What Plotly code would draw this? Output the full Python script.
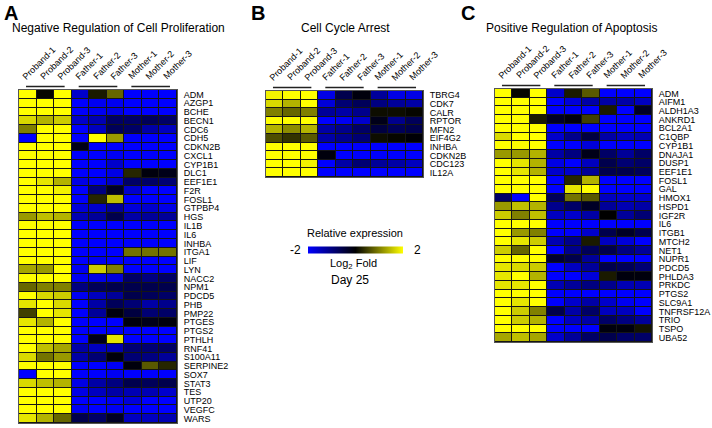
import plotly.graph_objects as go

samples = ["Proband-1", "Proband-2", "Proband-3", "Father-1", "Father-2", "Father-3",
           "Mother-1", "Mother-2", "Mother-3"]
group_spans = [(0, 2), (3, 5), (6, 8)]

genes_a = ["ADM", "AZGP1", "BCHE", "BECN1", "CDC6", "CDH5", "CDKN2B", "CXCL1", "CYP1B1",
           "DLC1", "EEF1E1", "F2R", "FOSL1", "GTPBP4", "HGS", "IL1B", "IL6", "INHBA", "ITGA1",
           "LIF", "LYN", "NACC2", "NPM1", "PDCD5", "PHB", "PMP22", "PTGES", "PTGS2", "PTHLH",
           "RNF41", "S100A11", "SERPINE2", "SOX7", "STAT3", "TES", "UTP20", "VEGFC", "WARS"]
values_a = [
    [2, 0.05, 2, -1.6, 0.2, 0.8, -2, -2, -2],
    [2, 2, 2, -2, -1.9, -1.9, -2, -2, -2],
    [2, 2, 2, -2, -1.9, -1.8, -2, -2, -2],
    [1.7, 1.4, 1.6, -1.6, -1.4, -0.8, -0.8, -0.7, -0.8],
    [1.0, 2, 2, -2, -1.5, -0.7, -0.8, -1.3, -1.5],
    [-2, 2, 2, -2, 2, 1.2, -2, -2, -2],
    [2, 2, 2, -0.2, -2, -2, -2, -2, -2],
    [2, 2, 2, -2, -2, -1.9, -2, -2, -2],
    [2, 2, 2, -2, -2, -1.6, -2, -2, -2],
    [2, 2, 2, -2, -2, -1.8, 0.3, -0.1, -0.2],
    [2, 1.8, 1.4, -1.8, -1.9, -1.6, -0.8, -0.8, -0.9],
    [2, 2, 1.9, -2, -1.0, -0.3, -1.6, -2, -2],
    [2, 2, 2, -2, 0.3, 1.5, -2, -2, -2],
    [2, 2, 2, -1.7, -1.6, -1.2, -1.7, -1.6, -1.8],
    [1.2, 1.5, 1.4, -1.4, -1.2, -0.6, -1.3, -1.2, -1.2],
    [2, 2, 2, -2, -2, -2, -2, -2, -2],
    [2, 2, 2, -2, -2, -2, -2, -2, -2],
    [2, 2, 2, -2, -2, -2, -2, -2, -2],
    [2, 2, 2, -2, -2, -2, 0.9, 0.9, 0.9],
    [2, 2, 2, -2, -1.9, -2, -2, -2, -2],
    [1.3, 1.2, 2, -1.9, 1.6, 1.0, -2, -2, -2],
    [2, 2, 2, -1.9, -1.8, -1.7, -0.8, -1.0, -0.8],
    [0.8, 1.0, 1.0, -1.0, -0.7, -0.6, -0.6, -0.6, -0.6],
    [2, 1.7, 1.6, -1.9, -1.5, -1.2, -0.6, -0.7, -0.8],
    [1.8, 2, 1.7, -2, -1.3, -0.7, -0.9, -1.3, -1.1],
    [0.5, 2, 1.8, -2, -1.2, -0.1, -0.5, -0.9, -0.8],
    [1.8, 1.4, 2, -2, -2, -2, -0.1, -0.2, -0.1],
    [2, 2, 2, -2, -2, -1.9, -2, -2, -2],
    [2, 2, 2, -2, -0.2, 1.8, -2, -2, -2],
    [2, 1.5, 1.3, -1.3, -1.5, -1.4, -0.9, -0.9, -0.8],
    [1.7, 0.9, 1.2, -1.3, -0.9, -0.1, -0.9, -1.0, -1.2],
    [2, 2, 2, -2, -2, -1.9, -0.1, 0.7, 0.3],
    [-2, 2, 2, -2, -2, -1.9, -2, -2, -2],
    [1.7, 1.5, 1.4, -1.8, -1.3, -1.0, -0.6, -0.7, -0.6],
    [2, 2, 2, -1.8, -1.5, -1.3, -1.4, -1.4, -1.6],
    [2, 2, 2, -2, -2, -1.9, -1.7, -2, -2],
    [2, 2, 2, -1.9, -2, -1.9, -2, -2, -2],
    [1.8, 1.4, 0.8, -0.6, -0.8, -0.3, -1.5, -1.5, -1.4],
]

genes_b = ["TBRG4", "CDK7", "CALR", "RPTOR", "MFN2", "EIF4G2", "INHBA", "CDKN2B", "CDC123", "IL12A"]
values_b = [
    [1.9, 2, 2, -1.8, -0.6, -0.1, -1.2, -1.8, -1.8],
    [1.7, 1.4, 2, -1.7, -0.9, -0.7, -1.0, -1.2, -1.3],
    [1.0, 0.8, 1.0, -1.2, -1.3, -1.1, 0.1, 0.1, 0.05],
    [2, 2, 2, -2, -1.9, -1.6, -0.2, -1.1, -0.7],
    [1.4, 1.1, 1.4, -1.3, -1.1, -0.8, -0.5, -0.7, -0.6],
    [0.6, 0.4, 0.7, -1.3, -1.1, -0.9, 0.1, 0.05, -0.05],
    [2, 2, 2, -2, -2, -2, -2, -2, -2],
    [2, 2, 2, -0.1, -2, -2, -2, -2, -2],
    [2, 2, 1.9, -2, -1.3, -0.9, -1.2, -1.3, -1.5],
    [2, 2, 2, -2, -2, -2, -2, -2, -2],
]

genes_c = ["ADM", "AIFM1", "ALDH1A3", "ANKRD1", "BCL2A1", "C1QBP", "CYP1B1", "DNAJA1", "DUSP1",
           "EEF1E1", "FOSL1", "GAL", "HMOX1", "HSPD1", "IGF2R", "IL6", "ITGB1", "MTCH2", "NET1",
           "NUPR1", "PDCD5", "PHLDA3", "PRKDC", "PTGS2", "SLC9A1", "TNFRSF12A", "TRIO", "TSPO", "UBA52"]
values_c = [
    [2, 0.05, 2, -1.6, 0.2, 0.7, -2, -2, -2],
    [2, 2, 2, -2, -1.7, -1.3, -1.3, -1.3, -1.5],
    [2, 2, 2, -2, -2, -2, 0.2, -2, -0.3],
    [2, 2, 0.2, -0.3, -0.1, 0.5, -2, -2, -2],
    [2, 2, 2, -2, -2, -2, -2, -2, -2],
    [1.7, 2, 2, -1.6, -1.1, -0.5, -1.3, -1.5, -1.4],
    [2, 2, 2, -2, -2, -1.7, -2, -2, -2],
    [1.2, 1.2, 1.4, -1.3, -1.0, -0.2, -0.8, -1.2, -0.8],
    [2, 1.8, 1.4, -1.8, -2, -1.5, -0.6, -0.9, -0.8],
    [2, 1.8, 1.4, -1.6, -1.6, -1.2, -0.6, -0.6, -0.7],
    [2, 2, 2, -2, 0.3, 1.4, -2, -2, -2],
    [2, 2, 2, -2, 1.8, 2, -2, -2, -2],
    [-0.8, -2, 2, -0.7, 0.9, 0.7, -1.5, -1.6, -1.6],
    [1.2, 1.5, 1.4, -1.1, -0.8, -0.3, -1.2, -1.4, -1.3],
    [1.6, 1.0, 1.5, -1.5, -1.6, -1.3, 0.0, -1.2, -0.9],
    [2, 2, 2, -2, -2, -2, -2, -2, -2],
    [2, 1.2, 1.0, -2, -2, -1.6, -0.6, -0.3, -0.6],
    [2, 1.8, 1.6, -1.4, -1.1, 0.2, -1.5, -1.7, -2],
    [1.6, 0.8, 2, -2, -1.1, -0.7, -0.6, -1.0, -1.2],
    [2, 2, 2, -0.4, -0.6, -1.2, -2, -2, -2],
    [1.8, 1.7, 1.6, -2, -1.5, -1.2, -0.6, -0.7, -0.9],
    [1.8, 2, 1.4, -2, -2, -1.7, 0.2, -0.1, -0.1],
    [1.8, 1.8, 2, -1.4, -1.2, -1.0, -1.1, -1.4, -1.4],
    [2, 2, 2, -2, -2, -2, -2, -2, -2],
    [2, 1.8, 2, -2, -1.6, -1.3, -1.6, -1.9, -2],
    [2, 1.6, 1.0, -0.6, -1.3, -0.8, -1.5, -1.5, -2],
    [2, 1.6, 1.4, -2, -1.5, -1.3, -0.8, -1.0, -1.2],
    [2, 2, 2, -2, -2, -2, -0.1, -0.1, 0.15],
    [1.3, 1.5, 1.3, -1.6, -1.2, -0.8, -0.6, -0.8, -0.8],
]

W, H = 712, 428
FONT = "Liberation Sans Narrow, Arial Narrow, Liberation Sans, Arial, sans-serif"
colorscale = [[0, "rgb(0,0,255)"], [0.5, "rgb(0,0,0)"], [1, "rgb(255,255,0)"]]


def fx(p):
    return p / W


def fy(p):
    return 1 - p / H


panels = [
    dict(genes=genes_a, z=values_a, box=(19, 177, 90, 423)),
    dict(genes=genes_b, z=values_b, box=(266, 423, 91, 177)),
    dict(genes=genes_c, z=values_c, box=(495, 652, 89, 342)),
]

fig = go.Figure()
layout = dict(width=W, height=H, margin=dict(l=0, r=0, t=0, b=0, autoexpand=False),
              template="none",
              paper_bgcolor="white", plot_bgcolor="#151515",
              font=dict(family=FONT, size=9, color="black"), showlegend=False)
shapes = []
annotations = []
for i, p in enumerate(panels, start=1):
    sfx = "" if i == 1 else str(i)
    x0, x1, y0, y1 = p["box"]
    fig.add_trace(go.Heatmap(
        z=p["z"], x=list(range(len(samples))), y=list(range(len(p["genes"]))),
        colorscale=colorscale, zmin=-2, zmax=2, xgap=1, ygap=1,
        xaxis="x" + sfx, yaxis="y" + sfx,
        showscale=(i == 2),
        colorbar=dict(orientation="h", x=fx(355.5), xanchor="center", y=fy(250), yanchor="middle",
                      len=95, lenmode="pixels", thickness=7, thicknessmode="pixels",
                      xpad=0, ypad=0, outlinewidth=0, showticklabels=False, ticks=""),
        hoverinfo="skip"))
    layout["xaxis" + sfx] = dict(
        domain=[fx(x0), fx(x1)], anchor="y" + sfx, range=[-0.5, len(samples) - 0.5],
        showticklabels=False, ticks="", showgrid=False, zeroline=False, automargin=False,
        showline=True, mirror=True, linecolor="#555", linewidth=1)
    layout["yaxis" + sfx] = dict(
        domain=[fy(y1), fy(y0)], anchor="x" + sfx, range=[len(p["genes"]) - 0.5, -0.5],
        side="right", tickvals=list(range(len(p["genes"]))), ticktext=p["genes"],
        ticks="", ticklabelstandoff=4, showgrid=False, zeroline=False, automargin=False,
        showline=True, mirror=True, linecolor="#555", linewidth=1,
        tickfont=dict(size=9, family=FONT))
    for a, b in group_spans:
        shapes.append(dict(type="line", xref="x" + sfx, yref="paper",
                           x0=a - 0.1, x1=b + 0.1, y0=fy(y0 - 3.5), y1=fy(y0 - 3.5),
                           line=dict(color="#222", width=1.5)))
    for k, s in enumerate(samples):
        annotations.append(dict(text=s, xref="x" + sfx, yref="paper", x=k - 0.47, y=fy(y0 - 7),
                                xanchor="left", yanchor="bottom", textangle=-45,
                                showarrow=False, font=dict(size=9), borderpad=0))

extra = [
    dict(text="<b>A</b>", x=fx(2), y=fy(0), xanchor="left", yanchor="top",
         font=dict(size=20, family="Liberation Sans, Arial")),
    dict(text="<b>B</b>", x=fx(249), y=fy(0), xanchor="left", yanchor="top",
         font=dict(size=20, family="Liberation Sans, Arial")),
    dict(text="<b>C</b>", x=fx(459), y=fy(0), xanchor="left", yanchor="top",
         font=dict(size=20, family="Liberation Sans, Arial")),
    dict(text="Negative Regulation of Cell Proliferation", x=fx(118.5), y=fy(28),
         xanchor="center", yanchor="middle", font=dict(size=12)),
    dict(text="Cell Cycle Arrest", x=fx(345), y=fy(28),
         xanchor="center", yanchor="middle", font=dict(size=12)),
    dict(text="Positive Regulation of Apoptosis", x=fx(571.5), y=fy(28),
         xanchor="center", yanchor="middle", font=dict(size=12)),
    dict(text="Relative expression", x=fx(355), y=fy(233),
         xanchor="center", yanchor="middle", font=dict(size=11)),
    dict(text="-2", x=fx(303), y=fy(250), xanchor="right", yanchor="middle", font=dict(size=12)),
    dict(text="2", x=fx(412), y=fy(250), xanchor="left", yanchor="middle", font=dict(size=12)),
    dict(text="Log<sub>2</sub> Fold", x=fx(353), y=fy(264),
         xanchor="center", yanchor="middle", font=dict(size=11)),
    dict(text="Day 25", x=fx(350), y=fy(280),
         xanchor="center", yanchor="middle", font=dict(size=12)),
]
for a in extra:
    a.update(xref="paper", yref="paper", showarrow=False)
annotations.extend(extra)
layout["annotations"] = annotations
layout["shapes"] = shapes
fig.update_layout(**layout)
fig.write_html("out.html", config={"displayModeBar": False},
               post_script="document.body.style.margin='0';document.body.style.overflow='hidden';")
